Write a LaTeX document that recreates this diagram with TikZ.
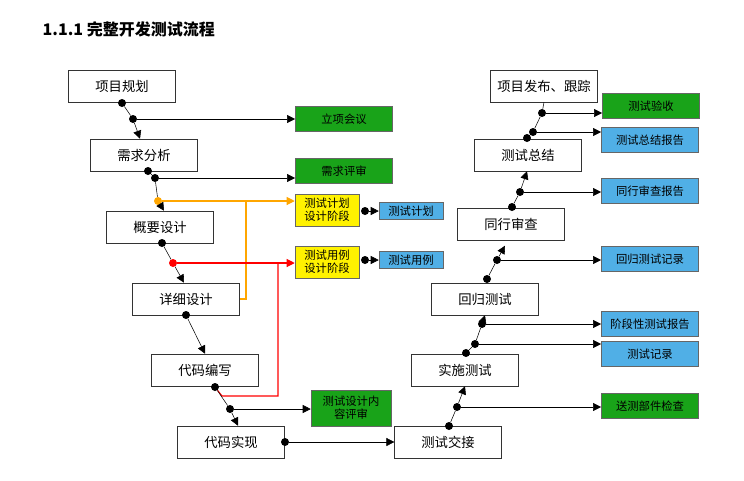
\documentclass[tikz,border=0pt]{standalone}
\usepackage{fontspec}
\setmainfont{Noto Sans CJK SC}
\usetikzlibrary{arrows.meta,calc}
\begin{document}
\begin{tikzpicture}[x=0.75pt,y=-0.75pt,
        box/.style={rectangle, draw=black!80, fill=white, minimum width=80pt, minimum height=24pt, font=\fontsize{10}{12}\selectfont, inner sep=0pt},
        tag/.style={rectangle, draw=black!60, minimum width=73pt, minimum height=19pt, font=\fontsize{8.5}{10}\selectfont, inner sep=0pt},
        grn/.style={tag, fill=green!60!black!90},
        blu/.style={tag, fill=cyan!80!blue!70},
        ylw/.style={tag, fill=yellow, minimum width=48pt, minimum height=24pt, align=center, font=\fontsize{8.5}{9.5}\selectfont},
        dot/.style={circle, fill=black, inner sep=0pt, minimum size=6pt},
        arr/.style={-{Triangle[length=6pt,width=6pt]}, thin},
        ln/.style={thin}
    ]
        \useasboundingbox (0,0) rectangle (744,480);
        \node[anchor=west, font=\fontsize{12}{14}\selectfont\bfseries] (title) at (38,29) {1.1.1 完整开发测试流程};

        % left chain
        \node[box] (plan) at (122,86) {项目规划};
        \node[box] (req) at (144,155) {需求分析};
        \node[box] (hld) at (160,227) {概要设计};
        \node[box] (dld) at (186,299) {详细设计};
        \node[box] (code) at (205,370) {代码编写};
        \node[box] (impl) at (231,442) {代码实现};

        % right chain
        \node[box] (hand) at (448,442) {测试交接};
        \node[box] (exec) at (465,370) {实施测试};
        \node[box] (regr) at (485,299) {回归测试};
        \node[box] (peer) at (511,224) {同行审查};
        \node[box] (summ) at (528,155) {测试总结};
        \node[box] (rel) at (544,86) {项目发布、跟踪};

        % outputs
        \node[grn] (kick) at (344,119) {立项会议};
        \node[grn] (rrev) at (344,171) {需求评审};
        \node[ylw] (tpd) at (327,210) {测试计划\\设计阶段};
        \node[ylw] (tcd) at (327,262) {测试用例\\设计阶段};
        \node[blu, minimum width=48pt, minimum height=13pt] (tp) at (411,211) {测试计划};
        \node[blu, minimum width=48pt, minimum height=13pt] (tc) at (411,260) {测试用例};
        \node[grn, minimum width=60pt, minimum height=27pt, align=center, font=\fontsize{8.5}{10}\selectfont] (drev) at (351,408) {测试设计内\\容评审};
        \node[grn] (acc) at (651,106) {测试验收};
        \node[blu] (srep) at (650,140) {测试总结报告};
        \node[blu] (prep) at (650,191) {同行审查报告};
        \node[blu] (rrec) at (650,259) {回归测试记录};
        \node[blu] (stage) at (650,324) {阶段性测试报告};
        \node[blu] (trec) at (650,354) {测试记录};
        \node[grn] (part) at (650,406) {送测部件检查};

        % left dots
        \node[dot] (p1) at (122,103) {};
        \node[dot] (p2) at (133,119) {};
        \node[dot] (r1) at (148,171) {};
        \node[dot] (r2) at (155,178) {};
        \node[dot, fill=orange!70!yellow] (r3) at (158,201) {};
        \node[dot] (h1) at (162,243) {};
        \node[dot, fill=red] (h2) at (173,263) {};
        \node[dot] (d1) at (186,315) {};
        \node[dot] (c1) at (215,387) {};
        \node[dot] (c2) at (230,409) {};
        \node[dot] (i1) at (285,442) {};
        \node[dot] (tp1) at (365,211) {};
        \node[dot] (tc1) at (365,260) {};
        \coordinate (ybend) at (246,201);
        \coordinate (rbend) at (278,263);

        % right dots
        \node[dot] (a1) at (449,426) {};
        \node[dot] (a2) at (457,407) {};
        \node[dot] (e1) at (466,353) {};
        \node[dot] (e2) at (475,344) {};
        \node[dot] (e3) at (482,324) {};
        \node[dot] (g1) at (487,279) {};
        \node[dot] (g2) at (497,260) {};
        \node[dot] (q1) at (512,207) {};
        \node[dot] (q2) at (520,192) {};
        \node[dot] (s1) at (527,138) {};
        \node[dot] (s2) at (533,132) {};
        \node[dot] (s3) at (542,113) {};

        % left connectors
        \draw[arr] (p1) -- (p2) -- ($(req.north)+(-4,0)$);
        \draw[arr] (p2) -- (kick.west |- p2);
        \draw[ln] (r1) -- (r2);
        \draw[arr] (r2) -- (rrev.west |- r2);
        \draw[ln] (r2) -- (r3);
        \draw[arr] (r3) -- ($(hld.north)+(4,0)$);
        \draw[arr, orange!70!yellow, thick] (r3) -- (tpd.west |- r3);
        \draw[orange!70!yellow, thick] (ybend) |- (dld.east);
        \draw[arr] (tp1) -- (tp);
        \draw[arr] (h1) -- (h2) -- ($(dld.north)+(-2,0)$);
        \draw[arr, red, thick] (h2) -- (tcd.west |- h2);
        \draw[red, thick] (rbend) |- ($(c1)+(7,9)$) -- (c1);
        \draw[arr] (tc1) -- (tc);
        \draw[arr] (d1) -- (code.north);
        \draw[arr] (c1) -- (c2) -- ($(impl.north)+(7,0)$);
        \draw[arr] (c2) -- (drev.west |- c2);
        \draw[arr] (i1) -- (hand.west);

        % right connectors
        \draw[arr] (a1) -- (a2) -- (exec.south);
        \draw[arr] (a2) -- (part.west |- a2);
        \draw[ln] (e1) -- (e2) -- (e3);
        \draw[arr] (e2) -- (trec.west |- e2);
        \draw[arr] (e3) -- (stage.west |- e3);
        \draw[arr] (e3) -- (regr.south);
        \draw[arr] (g1) -- (g2) -- ($(regr.north)+(20,-37)$);
        \draw[arr] (g2) -- (rrec.west |- g2);
        \draw[arr] (q1) -- (q2) -- ($(summ.south)+(-1,0)$);
        \draw[arr] (q2) -- (prep.west |- q2);
        \draw[ln] (s1) -- (s2) -- (s3) -- (rel.south);
        \draw[arr] (s2) -- (srep.west |- s2);
        \draw[arr] (s3) -- (acc.west |- s3);
    \end{tikzpicture}
\end{document}
